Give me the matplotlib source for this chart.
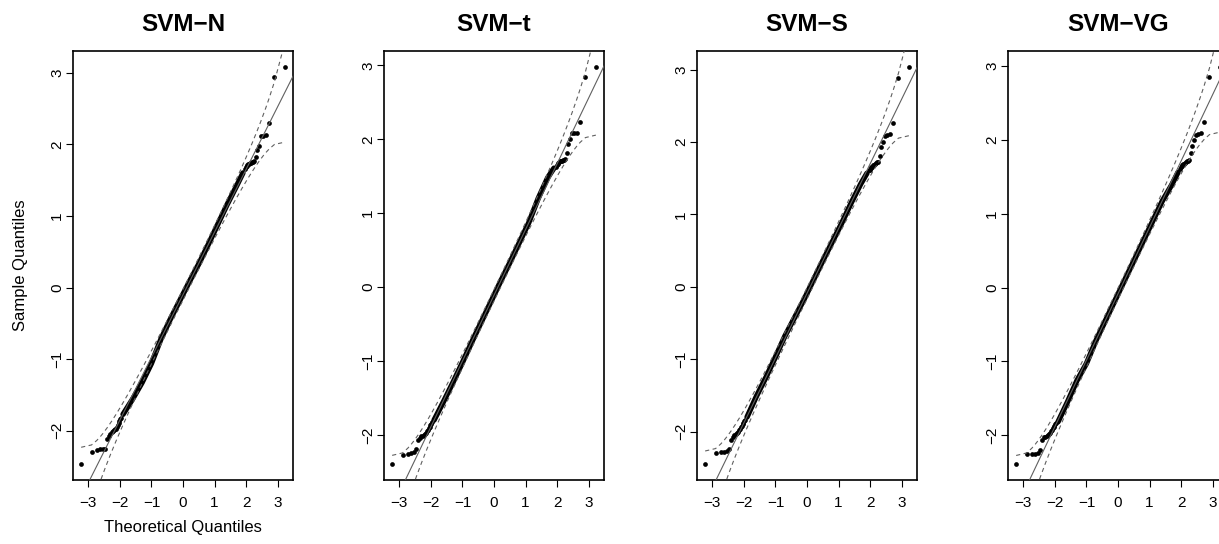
import numpy as np
import matplotlib.pyplot as plt
from statistics import NormalDist

# --- data: normal QQ plots of SVM residuals ---
titles = ["SVM\u2212N", "SVM\u2212t", "SVM\u2212S", "SVM\u2212VG"]
n_obs = 800

# lowest 20 residuals of each model (ascending)
low_N = [-2.465, -2.29, -2.27, -2.26, -2.25, -2.25, -2.12, -2.07, -2.05, -2.02,
         -2.00, -1.99, -1.98, -1.97, -1.95, -1.92, -1.89, -1.86, -1.84, -1.82]
low_t = [-2.395, -2.265, -2.26, -2.25, -2.23, -2.19, -2.07, -2.04, -2.02, -2.01,
         -2.00, -1.99, -1.97, -1.95, -1.93, -1.91, -1.89, -1.87, -1.85, -1.83]
low_S = [-2.45, -2.29, -2.28, -2.28, -2.27, -2.245, -2.12, -2.07, -2.05, -2.03,
         -2.02, -2.00, -1.98, -1.96, -1.94, -1.92, -1.90, -1.88, -1.86, -1.84]
low_VG = [-2.393, -2.26, -2.255, -2.255, -2.24, -2.20, -2.07, -2.03, -2.02, -2.01,
          -2.00, -1.99, -1.97, -1.95, -1.93, -1.91, -1.89, -1.87, -1.85, -1.83]

# highest 20 residuals of each model (descending)
high_N = [3.08, 2.94, 2.29, 2.13, 2.12, 2.11, 1.97, 1.92, 1.82, 1.76,
          1.75, 1.75, 1.74, 1.74, 1.73, 1.72, 1.71, 1.70, 1.68, 1.66]
high_t = [2.98, 2.84, 2.24, 2.09, 2.08, 2.08, 2.00, 1.93, 1.82, 1.73,
          1.72, 1.72, 1.71, 1.70, 1.70, 1.69, 1.68, 1.67, 1.65, 1.63]
high_S = [3.04, 2.89, 2.27, 2.11, 2.10, 2.09, 2.00, 1.93, 1.81, 1.73,
          1.72, 1.71, 1.70, 1.69, 1.68, 1.66, 1.65, 1.64, 1.62, 1.61]
high_VG = [2.99, 2.85, 2.245, 2.10, 2.08, 2.07, 2.00, 1.92, 1.82, 1.73,
           1.72, 1.71, 1.70, 1.69, 1.68, 1.67, 1.66, 1.65, 1.63, 1.61]

# the dense central run of points, sampled at these theoretical quantiles
mid_z = [-1.9, -1.6, -1.3, -1.0, -0.7, -0.4, -0.1, 0.2, 0.5, 0.8, 1.1, 1.4, 1.7, 1.9]
mid_N = [-1.77, -1.56, -1.33, -1.06, -0.72, -0.44, -0.18, 0.08, 0.33, 0.60, 0.88, 1.16, 1.42, 1.60]
mid_t = [-1.80, -1.55, -1.29, -1.02, -0.74, -0.47, -0.20, 0.07, 0.33, 0.60, 0.87, 1.20, 1.48, 1.61]
mid_S = [-1.80, -1.51, -1.25, -0.97, -0.68, -0.43, -0.18, 0.09, 0.36, 0.62, 0.88, 1.16, 1.42, 1.57]
mid_VG = [-1.82, -1.55, -1.26, -1.03, -0.72, -0.45, -0.18, 0.09, 0.36, 0.63, 0.90, 1.17, 1.39, 1.56]

# reference line (quartile line) of each panel
line_int = [-0.10, -0.11, -0.09, -0.085]
line_slope = [0.875, 0.89, 0.895, 0.90]

lows = [low_N, low_t, low_S, low_VG]
highs = [high_N, high_t, high_S, high_VG]
mids = [mid_N, mid_t, mid_S, mid_VG]

plt.rcParams['font.family'] = ['Liberation Sans', 'DejaVu Sans']
plt.rcParams['lines.scale_dashes'] = False

W, H = 1219, 544
fig = plt.figure(figsize=(W / 100, H / 100), dpi=100)

nd = NormalDist()
ranks = np.arange(1, n_obs + 1)
pp = (ranks - 0.5) / n_obs
z_all = np.array([nd.inv_cdf(p) for p in pp])
dens = np.array([nd.pdf(z) for z in z_all])
zz = nd.inv_cdf(0.975)

lefts = [73, 384, 697, 1008]
gray = '#606060'

for k in range(4):
    ax = fig.add_axes([lefts[k] / W, 64 / H, 220 / W, 429 / H])
    lo = np.array(lows[k])
    hi = np.array(highs[k])
    z_lo = z_all[:len(lo)]
    z_hi = z_all[::-1][:len(hi)]

    # central run of points
    ax.plot(mid_z, mids[k], color='black', lw=3.9, solid_capstyle='round', zorder=2)
    ax.plot(z_lo, lo, 'o', color='black', ms=3.4, mew=0, zorder=2)
    ax.plot(z_hi, hi, 'o', color='black', ms=3.4, mew=0, zorder=2)

    # reference line and 95% pointwise envelope
    a, b = line_int[k], line_slope[k]
    ax.axline((0, a), slope=b, color=gray, lw=0.8, zorder=3)
    fit = a + b * z_all
    se = (b / dens) * np.sqrt(pp * (1 - pp) / n_obs)
    ax.plot(z_all, fit + zz * se, color=gray, lw=0.8, dashes=(3, 2.5), zorder=3)
    ax.plot(z_all, fit - zz * se, color=gray, lw=0.8, dashes=(3, 2.5), zorder=3)

    # R-style axis ranges (+4%)
    zr = z_all[-1] - z_all[0]
    ax.set_xlim(z_all[0] - 0.04 * zr, z_all[-1] + 0.04 * zr)
    ymin, ymax = lo.min(), hi.max()
    yr = ymax - ymin
    ax.set_ylim(ymin - 0.04 * yr, ymax + 0.04 * yr)

    ax.set_xticks(range(-3, 4))
    ax.set_xticklabels([str(v).replace('-', '\u2212') for v in range(-3, 4)])
    ax.set_yticks(range(-2, 4))
    ax.set_yticklabels([str(v).replace('-', '\u2212') for v in range(-2, 4)],
                       rotation=90, va='center')
    ax.tick_params(direction='out', length=5, width=0.8, labelsize=11, colors='black')
    ax.tick_params(axis='x', pad=6.5)
    ax.tick_params(axis='y', pad=1.5)
    for sp in ax.spines.values():
        sp.set_linewidth(1.2)

    ax.set_title(titles[k], fontsize=17.5, fontweight='bold', pad=14.5)

    if k == 0:
        ax.set_xlabel('Theoretical Quantiles', fontsize=12, labelpad=7.5)
        ax.set_ylabel('Sample Quantiles', fontsize=12, labelpad=15.5)

fig.savefig('out.png', dpi=100)
